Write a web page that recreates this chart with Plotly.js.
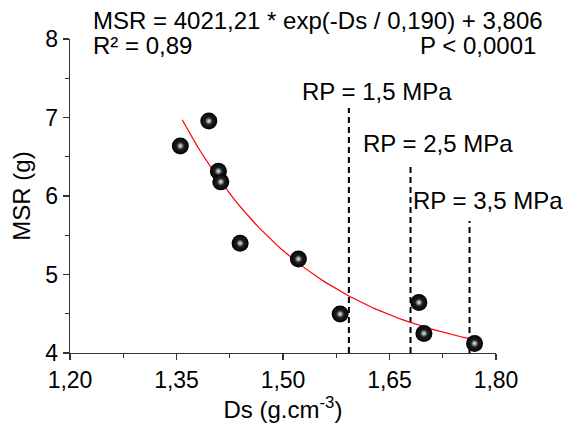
<!DOCTYPE html>
<html>
<head>
<meta charset="utf-8">
<script src="https://cdn.plot.ly/plotly-3.0.1.min.js"></script>
<style>html,body{margin:0;padding:0;background:#fff;}#chart{width:565px;height:423px;}</style>
</head>
<body>
<div id="chart"></div>
<script>
// Data
const dsValues  = [1.3554, 1.3955, 1.4090, 1.4124, 1.4396, 1.5217, 1.5805, 1.6914, 1.6985, 1.7698];
const msrValues = [6.638, 6.955, 6.316, 6.180, 5.398, 5.198, 4.496, 4.643, 4.249, 4.122];

// Fitted model parameters (from the equation shown)
const fitA = 4021.21, fitT = 0.190, fitY0 = 3.806;
const fitStart = 1.3580, fitEnd = 1.7698;

// Resistance-to-penetration reference lines
const rpLabels = ['RP = 1,5 MPa', 'RP = 2,5 MPa', 'RP = 3,5 MPa'];
const rpDs     = [1.5928, 1.6796, 1.7627];
const rpTop    = [7.12, 6.40, 5.68];
const rpLabelX = [1.6317, 1.7183, 1.7884];
const rpLabelY = [7.333, 6.668, 5.948];

const xTicks = [1.20, 1.35, 1.50, 1.65, 1.80];
const yTicks = [4, 5, 6, 7, 8];

const FONT = 'Liberation Sans, Arial, sans-serif';
const FS = 23;
const FA = 24;

const fitX = [], fitY = [];
const nSteps = 80;
for (let i = 0; i <= nSteps; i++) {
  const x = fitStart + (fitEnd - fitStart) * i / nSteps;
  fitX.push(x);
  fitY.push(fitA * Math.exp(-x / fitT) + fitY0);
}

const traces = [];
rpDs.forEach((x, i) => {
  traces.push({
    x: [x, x], y: [4, rpTop[i]], mode: 'lines', type: 'scatter',
    line: {color: '#000', width: 2, dash: '6px,4px'},
    hoverinfo: 'skip', showlegend: false, cliponaxis: false
  });
});
traces.push({
  x: fitX, y: fitY, mode: 'lines', type: 'scatter',
  line: {color: '#ff0000', width: 1.2}, showlegend: false
});
traces.push({
  x: dsValues, y: msrValues, mode: 'markers', type: 'scatter',
  marker: {size: 17, color: '#000', line: {width: 0},
           gradient: {type: 'radial', color: '#3a3a3a'}},
  showlegend: false, cliponaxis: false
});
traces.push({
  x: dsValues, y: msrValues, mode: 'markers', type: 'scatter',
  marker: {size: 8, color: '#111', line: {width: 0},
           gradient: {type: 'radial', color: '#f4f4f4'}},
  showlegend: false, cliponaxis: false
});

const annotations = [
  {xref: 'paper', yref: 'paper', x: (91 - 70) / 425.6, y: (353.3 - 19.7) / 314.8,
   xanchor: 'left', yanchor: 'middle', showarrow: false,
   text: 'MSR = 4021,21 * exp(-Ds / 0,190) + 3,806', font: {family: FONT, size: FA, color: '#000'}},
  {xref: 'paper', yref: 'paper', x: (91 - 70) / 425.6, y: (353.3 - 45.5) / 314.8,
   xanchor: 'left', yanchor: 'middle', showarrow: false,
   text: 'R² = 0,89', font: {family: FONT, size: FA, color: '#000'}},
  {xref: 'paper', yref: 'paper', x: (538 - 70) / 425.6, y: (353.3 - 45.5) / 314.8,
   xanchor: 'right', yanchor: 'middle', showarrow: false,
   text: 'P < 0,0001', font: {family: FONT, size: FA, color: '#000'}}
];
rpLabels.forEach((t, i) => {
  annotations.push({xref: 'x', yref: 'y', x: rpLabelX[i], y: rpLabelY[i],
    xanchor: 'center', yanchor: 'middle', showarrow: false, text: t,
    font: {family: FONT, size: FA, color: '#000'}});
});

const axisCommon = {
  showgrid: false, zeroline: false, showline: true, linecolor: '#333', linewidth: 1.3,
  ticks: 'outside', ticklen: 6, tickwidth: 1.3, tickcolor: '#333',
  tickfont: {family: FONT, size: FS, color: '#000'}, mirror: false
};

const layout = {
  width: 565, height: 423,
  margin: {l: 70, r: 69, t: 38.5, b: 69.7},
  paper_bgcolor: '#fff', plot_bgcolor: '#fff',
  separators: ', ',
  showlegend: false,
  xaxis: Object.assign({}, axisCommon, {
    range: [1.20, 1.80], tickvals: xTicks, tickformat: '.2f',
    minor: {dtick: 0.075, tick0: 1.2, ticks: 'outside', ticklen: 4, tickcolor: '#333', tickwidth: 1.3},
    title: {text: 'Ds (g.cm<sup>-3</sup>)', font: {family: FONT, size: FA, color: '#000'}, standoff: 4}
  }),
  yaxis: Object.assign({}, axisCommon, {
    range: [4, 8], tickvals: yTicks,
    minor: {dtick: 0.5, tick0: 4, ticks: 'outside', ticklen: 4, tickcolor: '#333', tickwidth: 1.3},
    title: {text: 'MSR (g)', font: {family: FONT, size: FA, color: '#000'}, standoff: 8}
  }),
  annotations: annotations
};

Plotly.newPlot('chart', traces, layout, {staticPlot: true, displayModeBar: false});
</script>
</body>
</html>
